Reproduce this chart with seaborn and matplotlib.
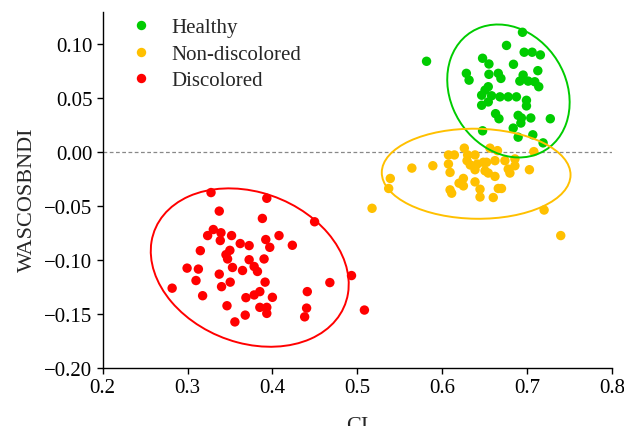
import numpy as np
import pandas as pd
import matplotlib
matplotlib.use("Agg")
import matplotlib.pyplot as plt
import seaborn as sns
from matplotlib.patches import Ellipse

groups = ["Healthy", "Non-discolored", "Discolored"]
colors = ["#00CC00", "#FFC000", "#FF0000"]

healthy_ci = [0.6945, 0.6757, 0.6965, 0.7059, 0.7156, 0.6475, 0.6550, 0.6839, 0.7126, 0.6284,
              0.6316, 0.6550, 0.6660, 0.6691, 0.6953, 0.6914, 0.7012, 0.7090, 0.7137, 0.6542,
              0.6504, 0.6464, 0.6581, 0.6680, 0.6777, 0.6874, 0.6992, 0.6992, 0.6464, 0.6542,
              0.6628, 0.6668, 0.6894, 0.6933, 0.7043, 0.7273, 0.6926, 0.6836, 0.6475, 0.6894,
              0.7067, 0.7188, 0.5815]
healthy_w = [0.1110, 0.0988, 0.0925, 0.0925, 0.0900, 0.0869, 0.0816, 0.0813, 0.0754, 0.0729,
             0.0666, 0.0720, 0.0729, 0.0682, 0.0713, 0.0657, 0.0657, 0.0651, 0.0605, 0.0605,
             0.0573, 0.0526, 0.0521, 0.0511, 0.0511, 0.0511, 0.0479, 0.0427, 0.0433, 0.0464,
             0.0355, 0.0308, 0.0339, 0.0315, 0.0315, 0.0308, 0.0268, 0.0221, 0.0196, 0.0137,
             0.0159, 0.0084, 0.0841]

nondisc_ci = [0.6260, 0.6562, 0.6651, 0.7079, 0.6073, 0.6143, 0.6299, 0.6386, 0.6073, 0.6292,
              0.6484, 0.6522, 0.6621, 0.6738, 0.6856, 0.5642, 0.5889, 0.6092, 0.6386, 0.6504,
              0.6542, 0.6621, 0.6777, 0.6797, 0.6856, 0.7027, 0.5388, 0.5369, 0.6249, 0.6198,
              0.6249, 0.6386, 0.6445, 0.6445, 0.6660, 0.6698, 0.6092, 0.6111, 0.6601, 0.7200,
              0.5173, 0.7396, 0.6413, 0.6330]
nondisc_w = [0.0035, 0.0035, 0.0012, 0.0003, -0.0028, -0.0028, -0.0028, -0.0028, -0.0112, -0.0081,
             -0.0096, -0.0096, -0.0081, -0.0081, -0.0065, -0.0150, -0.0128, -0.0190, -0.0165, -0.0175,
             -0.0196, -0.0227, -0.0159, -0.0196, -0.0128, -0.0165, -0.0246, -0.0339, -0.0246, -0.0290,
             -0.0315, -0.0278, -0.0346, -0.0418, -0.0339, -0.0339, -0.0352, -0.0383, -0.0423, -0.0539,
             -0.0523, -0.0776, -0.0112, -0.0121]

disc_ci = [0.3276, 0.3933, 0.3373, 0.3881, 0.4496, 0.3303, 0.3236, 0.3393, 0.3385, 0.3518,
           0.3620, 0.3725, 0.3921, 0.3968, 0.4077, 0.4234, 0.3150, 0.3498, 0.3452, 0.3471,
           0.3725, 0.3901, 0.2994, 0.3127, 0.3529, 0.3647, 0.3784, 0.3823, 0.3373, 0.3099,
           0.3502, 0.3400, 0.3913, 0.4931, 0.4676, 0.2818, 0.3177, 0.3687, 0.3784, 0.3851,
           0.3999, 0.4410, 0.3464, 0.3851, 0.3933, 0.3933, 0.4402, 0.4379, 0.5083, 0.3679,
           0.3557]
disc_w = [-0.0377, -0.0430, -0.0549, -0.0617, -0.0648, -0.0720, -0.0776, -0.0750, -0.0822, -0.0776,
          -0.0850, -0.0869, -0.0813, -0.0885, -0.0776, -0.0866, -0.0916, -0.0913, -0.0953, -0.0993,
          -0.1000, -0.0993, -0.1078, -0.1087, -0.1072, -0.1100, -0.1063, -0.1109, -0.1134, -0.1193,
          -0.1208, -0.1250, -0.1208, -0.1147, -0.1212, -0.1264, -0.1334, -0.1352, -0.1327, -0.1296,
          -0.1349, -0.1296, -0.1427, -0.1442, -0.1442, -0.1498, -0.1449, -0.1530, -0.1467, -0.1514,
          -0.1577]

x_ticks = [0.2, 0.3, 0.4, 0.5, 0.6, 0.7, 0.8]
y_ticks = [-0.20, -0.15, -0.10, -0.05, 0.00, 0.05, 0.10]

df = pd.concat([
    pd.DataFrame({"CI": healthy_ci, "W": healthy_w, "Group": groups[0]}),
    pd.DataFrame({"CI": nondisc_ci, "W": nondisc_w, "Group": groups[1]}),
    pd.DataFrame({"CI": disc_ci, "W": disc_w, "Group": groups[2]}),
], ignore_index=True)

sns.set_style("ticks")
plt.rcParams["font.family"] = ["Liberation Serif", "DejaVu Serif"]
plt.rcParams["axes.unicode_minus"] = True

fig = plt.figure(figsize=(6.24, 4.27), dpi=100)
ax = fig.add_axes([0.1646, 0.137, 0.9808 - 0.1646, 0.970 - 0.137])

ax.axhline(0, color="#888888", lw=0.9, ls=(0, (3, 2)), zorder=1)

sns.scatterplot(data=df, x="CI", y="W", hue="Group", hue_order=groups,
                palette=colors, s=46, linewidth=0, ax=ax, zorder=3)

chi = np.sqrt(5.991)
for g, c in zip(groups, colors):
    sub = df[df["Group"] == g]
    cov = np.cov(sub["CI"], sub["W"])
    vals, vecs = np.linalg.eigh(cov)
    order = vals.argsort()[::-1]
    vals, vecs = vals[order], vecs[:, order]
    ang = np.degrees(np.arctan2(vecs[1, 0], vecs[0, 0]))
    e = Ellipse((sub["CI"].mean(), sub["W"].mean()), 2 * chi * np.sqrt(vals[0]),
                2 * chi * np.sqrt(vals[1]), angle=ang, fill=False, edgecolor=c, lw=1.4, zorder=4)
    ax.add_patch(e)

ax.set_xlim(0.2, 0.8)
ax.set_ylim(-0.2, 0.13)
ax.set_xticks(x_ticks)
ax.set_yticks(y_ticks)
ax.set_xticklabels([f"{v:.1f}" for v in x_ticks])
ax.set_yticklabels([f"{v:.2f}".replace("-", "\u2212") for v in y_ticks])
ax.tick_params(axis="both", labelsize=15, length=4, width=1.0, direction="out", colors="black")
for sp in ["left", "bottom"]:
    ax.spines[sp].set_linewidth(1.0)
    ax.spines[sp].set_color("black")
sns.despine(ax=ax)

ax.set_xlabel("CI", fontsize=16, labelpad=14)
ax.set_ylabel("WASCOSBNDI", fontsize=16)
ax.yaxis.set_label_coords(-0.130, 0.475)

sns.move_legend(ax, "upper left", bbox_to_anchor=(-0.003, 1.036), frameon=False, title=None,
                fontsize=15, handletextpad=0.45, labelspacing=0.33, markerscale=1.0)

fig.savefig("out.png", dpi=100)
